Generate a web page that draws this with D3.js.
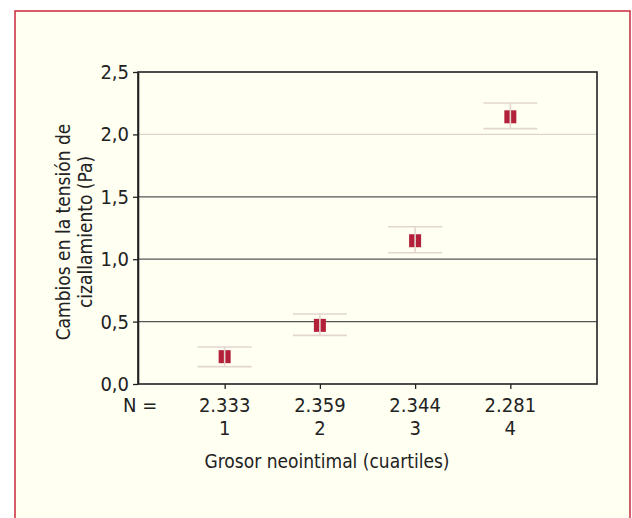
<!DOCTYPE html>
<html>
<head>
<meta charset="utf-8">
<script src="https://cdn.jsdelivr.net/npm/d3@7"></script>
<style>
  html, body { margin: 0; padding: 0; background: #fff; }
  svg { display: block; }
  text { font-family: "Liberation Sans Narrow", "DejaVu Sans Condensed", "Arial Narrow", sans-serif; fill: #222; }
</style>
</head>
<body>
<div id="chart"></div>
<script>
// Quartiles of neointimal thickness, mean change in shear stress with error bars
const categories = ["1", "2", "3", "4"];
const nLabels = ["2.333", "2.359", "2.344", "2.281"];
const means = [0.219, 0.470, 1.148, 2.141];
const upper = [0.296, 0.561, 1.260, 2.252];
const lower = [0.139, 0.390, 1.052, 2.046];
const yTicks = [0, 0.5, 1, 1.5, 2, 2.5];
const gridValues = [0.5, 1, 1.5, 2];

const width = 632, height = 518;
const margin = { left: 138, right: 35, top: 72, bottom: 134 };
const plotW = width - margin.left - margin.right;
const plotH = height - margin.top - margin.bottom;

const svg = d3.select("#chart").append("svg")
  .attr("width", width)
  .attr("height", height);

// cream panel with red frame (open at the bottom)
svg.append("rect")
  .attr("x", 15).attr("y", 11)
  .attr("width", 615).attr("height", 520)
  .attr("fill", "#fffff2")
  .attr("stroke", "#c8283c")
  .attr("stroke-width", 1.5);

const g = svg.append("g").attr("transform", `translate(${margin.left},${margin.top})`);

const x = d3.scalePoint().domain(categories).range([0, plotW]).padding(0.91);
const y = d3.scaleLinear().domain([0, 2.5]).range([plotH, 0]);
const fmt = (v) => d3.format(".1f")(v).replace(".", ",");

// gridlines
g.append("g").selectAll("line")
  .data(gridValues)
  .enter().append("line")
  .attr("x1", 0).attr("x2", plotW)
  .attr("y1", (d) => y(d)).attr("y2", (d) => y(d))
  .attr("stroke", (d) => (d === 2 ? "#e0d2cc" : "#555"))
  .attr("stroke-width", 1.3);

// plot frame
g.append("rect")
  .attr("x", 0).attr("y", 0)
  .attr("width", plotW).attr("height", plotH)
  .attr("fill", "none")
  .attr("stroke", "#222")
  .attr("stroke-width", 1.6);

// y axis
const yAxis = g.append("g")
  .call(d3.axisLeft(y).tickValues(yTicks).tickFormat(fmt).tickSize(5).tickSizeOuter(0));
yAxis.select(".domain").attr("stroke", "#222").attr("stroke-width", 1.6);
yAxis.selectAll(".tick line").attr("stroke", "#222").attr("stroke-width", 1.3);
yAxis.selectAll(".tick text")
  .attr("x", -9)
  .attr("font-size", 20)
  .attr("fill", "#222");

// x axis ticks
const xAxis = g.append("g")
  .attr("transform", `translate(0,${plotH})`)
  .call(d3.axisBottom(x).tickSize(5).tickSizeOuter(0).tickFormat(""));
xAxis.select(".domain").remove();
xAxis.selectAll(".tick line").attr("stroke", "#222").attr("stroke-width", 1.3);

// N row and category row
g.append("g").selectAll("text")
  .data(nLabels)
  .enter().append("text")
  .attr("x", (d, i) => x(categories[i]))
  .attr("y", plotH + 28)
  .attr("text-anchor", "middle")
  .attr("font-size", 20)
  .text((d) => d);

g.append("text")
  .attr("x", -15)
  .attr("y", plotH + 28)
  .attr("font-size", 20)
  .text("N =");

g.append("g").selectAll("text")
  .data(categories)
  .enter().append("text")
  .attr("x", (d) => x(d))
  .attr("y", plotH + 51)
  .attr("text-anchor", "middle")
  .attr("font-size", 20)
  .text((d) => d);

// axis titles
g.append("text")
  .attr("x", 189)
  .attr("y", plotH + 84)
  .attr("text-anchor", "middle")
  .attr("font-size", 19)
  .text("Grosor neointimal (cuartiles)");

const yTitle = g.append("text")
  .attr("transform", `translate(-68,${plotH / 2 + 4}) rotate(-90)`)
  .attr("text-anchor", "middle")
  .attr("font-size", 19);
yTitle.append("tspan").attr("x", 0).attr("dy", 0).text("Cambios en la tensión de");
yTitle.append("tspan").attr("x", 0).attr("dy", 22).text("cizallamiento (Pa)");

// error bars
const capHalf = 27;
const bars = g.append("g").selectAll("g")
  .data(categories)
  .enter().append("g");

bars.append("line")
  .attr("x1", (d, i) => x(d) - capHalf).attr("x2", (d, i) => x(d) + capHalf)
  .attr("y1", (d, i) => y(upper[i])).attr("y2", (d, i) => y(upper[i]))
  .attr("stroke", "#e3d6cf").attr("stroke-width", 1.6);
bars.append("line")
  .attr("x1", (d, i) => x(d) - capHalf).attr("x2", (d, i) => x(d) + capHalf)
  .attr("y1", (d, i) => y(lower[i])).attr("y2", (d, i) => y(lower[i]))
  .attr("stroke", "#e3d6cf").attr("stroke-width", 1.6);

// mean markers
bars.append("rect")
  .attr("x", (d) => x(d) - 6)
  .attr("y", (d, i) => y(means[i]) - 6.5)
  .attr("width", 12).attr("height", 13)
  .attr("fill", "#b3203a");

// vertical whisker drawn over the marker
bars.append("line")
  .attr("x1", (d) => x(d)).attr("x2", (d) => x(d))
  .attr("y1", (d, i) => y(upper[i])).attr("y2", (d, i) => y(lower[i]))
  .attr("stroke", "#e3d6cf").attr("stroke-width", 1.6);
</script>
</body>
</html>
